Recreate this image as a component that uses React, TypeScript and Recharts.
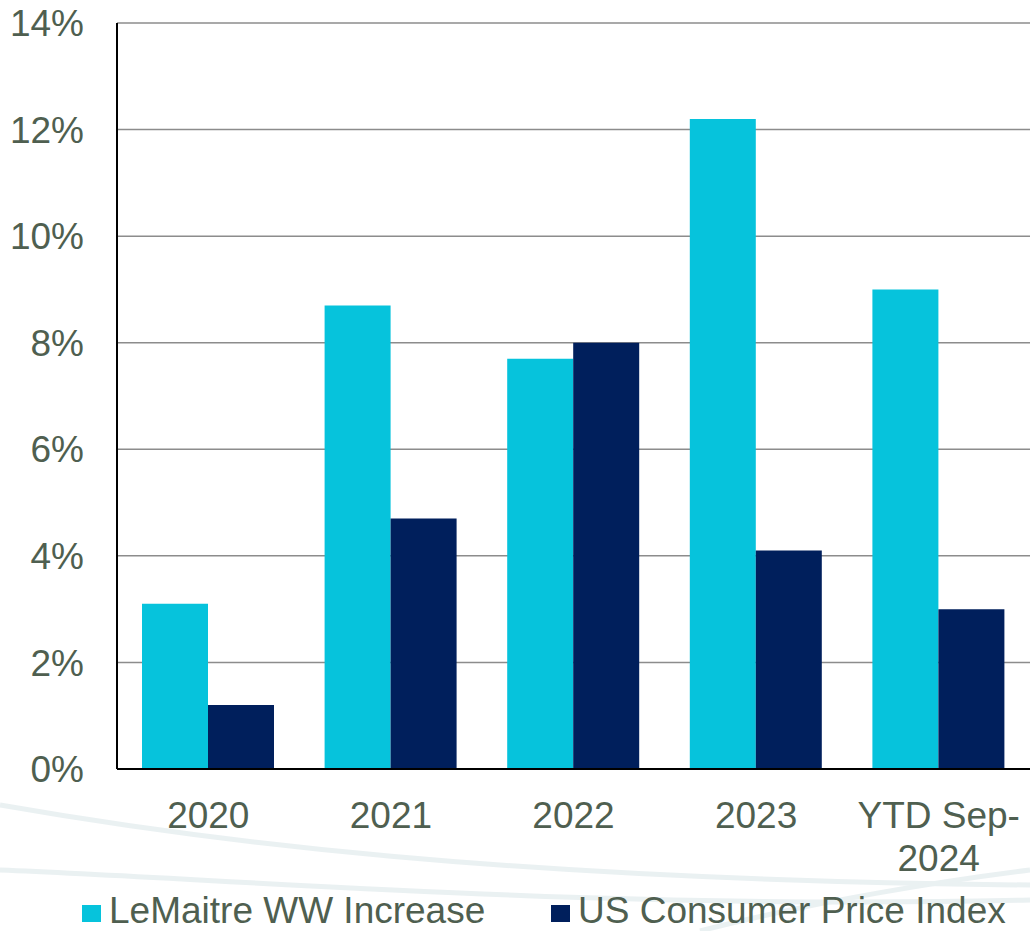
import { Bar, BarChart, CartesianGrid, Legend, XAxis, YAxis } from "recharts"

const categories = ["2020", "2021", "2022", "2023", "YTD Sep-\n2024"]
const lemaitreIncrease = [3.1, 8.7, 7.7, 12.2, 9.0]
const usCpi = [1.2, 4.7, 8.0, 4.1, 3.0]
const yTicks = [0, 2, 4, 6, 8, 10, 12, 14]

const CYAN = "#06C3DC"
const NAVY = "#001F5C"
const TEXT = "#4F5F50"
const FONT = "'Liberation Sans', Arial, sans-serif"
const FS = 37

const data = categories.map((name, i) => ({
  name,
  lemaitre: lemaitreIncrease[i],
  cpi: usCpi[i],
}))

function CategoryTick({ x, y, payload }: any) {
  const lines = String(payload.value).split("\n")
  return (
    <text x={x} y={y} textAnchor="middle" fill={TEXT} fontSize={FS} fontFamily={FONT}>
      {lines.map((line, i) => (
        <tspan key={i} x={x} y={y + 57 + i * 43}>
          {line}
        </tspan>
      ))}
    </text>
  )
}

function LegendBox() {
  const items = [
    { label: "LeMaitre WW Increase", color: CYAN, left: 82 },
    { label: "US Consumer Price Index", color: NAVY, left: 551 },
  ]
  return (
    <div style={{ position: "relative", height: 40 }}>
      {items.map((it) => (
        <div
          key={it.label}
          style={{
            position: "absolute",
            left: it.left,
            top: 10,
            display: "flex",
            alignItems: "center",
            fontFamily: FONT,
            fontSize: FS,
            color: TEXT,
            whiteSpace: "nowrap",
            lineHeight: "40px",
          }}
        >
          <span style={{ width: 19, height: 17, background: it.color, marginRight: 8, marginTop: 4 }} />
          {it.label}
        </div>
      ))}
    </div>
  )
}

export default function App() {
  return (
    <div style={{ position: "absolute", left: 0, top: 0, width: 1030, height: 931, background: "#fff", overflow: "hidden" }}>
      {/* faint decorative swooshes behind the chart */}
      <svg width={1030} height={931} style={{ position: "absolute", left: 0, top: 0 }}>
        <g fill="none" stroke="#E6EEF0" strokeWidth={5} opacity={0.8}>
          <path d="M0 805 C 200 840, 500 880, 1030 885" />
          <path d="M0 870 C 250 880, 600 910, 1030 900" />
          <path d="M700 931 C 820 900, 950 880, 1030 870" />
        </g>
      </svg>
      <div style={{ position: "absolute", left: 0, top: 0 }}>
        <BarChart
          width={1030}
          height={931}
          data={data}
          margin={{ top: 23, right: 0, bottom: 0, left: 0 }}
          barCategoryGap={25}
          barGap={0}
        >
          <CartesianGrid vertical={false} stroke="#8C8C8C" strokeWidth={1.5} />
          <XAxis
            dataKey="name"
            interval={0}
            tick={<CategoryTick />}
            tickLine={false}
            tickSize={0}
            axisLine={{ stroke: "#000", strokeWidth: 2 }}
            height={112}
          />
          <YAxis
            domain={[0, 14]}
            ticks={yTicks}
            tickFormatter={(v: number) => `${v}%`}
            tick={{ fill: TEXT, fontSize: FS, fontFamily: FONT }}
            tickLine={false}
            tickMargin={27}
            axisLine={{ stroke: "#000", strokeWidth: 2 }}
            width={117}
          />
          <Legend verticalAlign="bottom" height={50} content={<LegendBox />} />
          <Bar dataKey="lemaitre" name="LeMaitre WW Increase" fill={CYAN} isAnimationActive={false} />
          <Bar dataKey="cpi" name="US Consumer Price Index" fill={NAVY} isAnimationActive={false} />
        </BarChart>
      </div>
    </div>
  )
}
